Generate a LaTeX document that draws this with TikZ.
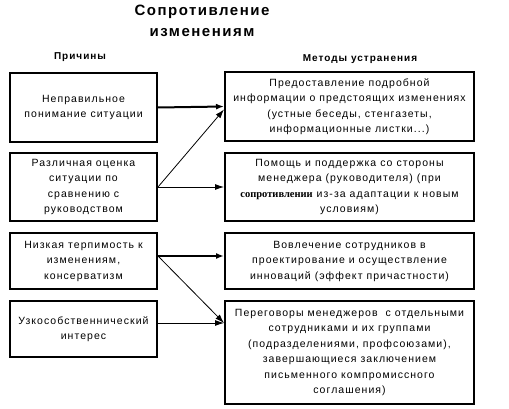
\documentclass[tikz,border=0pt]{standalone}
\usepackage{fontspec}
\setmainfont{Liberation Sans}[LetterSpace=10]
\newfontfamily\oddfont{Liberation Serif}
\usetikzlibrary{arrows.meta}
\usetikzlibrary{calc}
\tikzset{
    box/.style={draw, line width=2pt, align=center, inner sep=0pt, font=\fontsize{10.5}{15.5}\selectfont},
    head/.style={font=\bfseries\fontsize{10}{12}\selectfont},
    thickarr/.style={line width=2pt, -{Latex[length=8pt,width=6pt]}},
    thinarr/.style={line width=0.8pt, -{Latex[length=9pt,width=6pt]}}
}

\begin{document}
\begin{tikzpicture}[x=1pt,y=-1pt]
\useasboundingbox (0,0) rectangle (509,409);
\node[font=\bfseries\fontsize{15}{21}\selectfont, align=center] (title) at (202,21) {Сопротивление\\изменениям};
\node[head] (causes) at (80,57) {Причины};
\node[head] (methods) at (360,59) {Методы устранения};
% causes
\foreach \y/\h/\p/\labeltext in {107.5/69/L1/{Неправильное\\понимание ситуации},
    187/68/L2/{Различная оценка\\ситуации по\\сравнению с\\руководством},
    261/56/L3/{Низкая терпимость к\\изменениям,\\консерватизм},
    329/56/L4/{Узкособственнический\\интерес}}{
    \node[box, minimum width=147pt, minimum height=\h pt] (\p) at (83.5,\y) {\labeltext};
}
% methods
\foreach \y/\h/\p/\labeltext in {106.5/69/R1/{Предоставление подробной\\информации о предстоящих изменениях\\(устные беседы, стенгазеты,\\информационные листки...)},
    187/68/R2/{Помощь и поддержка со стороны\\менеджера (руководителя) (при\\{\oddfont\bfseries сопротивлении} из-за адаптации к новым\\условиям)},
    261/56/R3/{Вовлечение сотрудников в\\проектирование и осуществление\\инноваций (эффект причастности)},
    352.5/103/R4/{Переговоры менеджеров\ \ с отдельными\\сотрудниками и их группами\\(подразделениями, профсоюзами),\\завершающиеся заключением\\письменного компромиссного\\соглашения)}}{
    \node[box, minimum width=249pt, minimum height=\h pt] (\p) at (349.5,\y) {\labeltext};
}
\draw[thickarr] (L1.east) -- (R1.west);
\draw[thinarr] (L2.east) -- ([yshift=-3pt]R1.west);
\draw[thinarr] (L2.east) -- (R2.west);
\draw[thickarr] ([yshift=5pt]L3.east) -- ([yshift=5pt]R3.west);
\draw[thinarr] ([yshift=5pt]L3.east) -- ([yshift=6pt]L4.east -| R4.west);
\draw[thinarr] ([yshift=6pt]L4.east) -- ([yshift=6pt]L4.east -| R4.west);
\end{tikzpicture}
\end{document}
